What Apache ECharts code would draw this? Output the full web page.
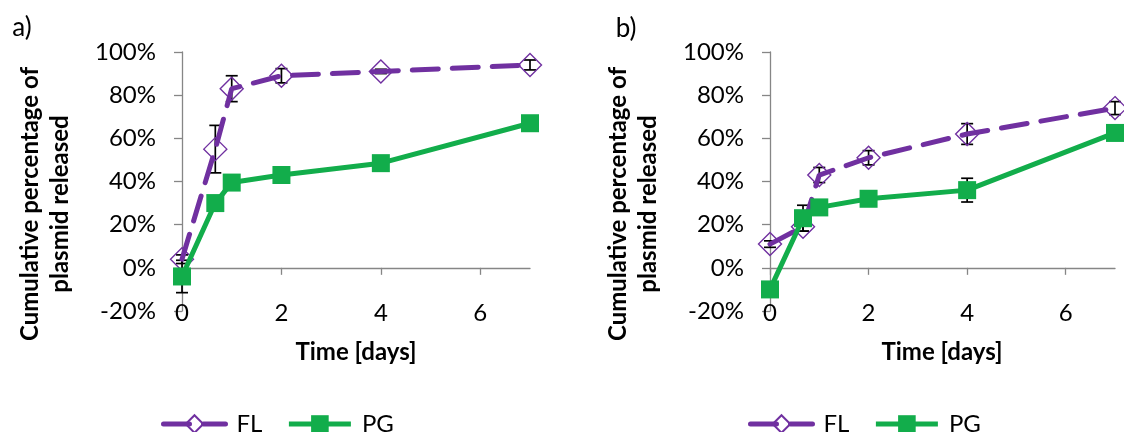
<!DOCTYPE html>
<html>
<head>
<meta charset="utf-8">
<script src="https://cdn.jsdelivr.net/npm/echarts@6/dist/echarts.min.js"></script>
<style>
  html, body { margin: 0; padding: 0; background: #fff; }
  #chart { width: 1124px; height: 432px; }
</style>
</head>
<body>
<div id="chart"></div>
<script>
// Sampling times (days)
const days = [0, 0.67, 1, 2, 4, 7];
const xTicks = [0, 2, 4, 6];

// Panel a) cumulative release (%) and error (±%)
const aFL = [4, 55, 83, 89, 91, 94];
const aFLerr = [2, 11, 6, 3.3, 1, 2.3];
const aPG = [-4, 30, 39.5, 43, 48.5, 67];
const aPGerr = [7.5, 1, 1, 1, 1, 1];

// Panel b) cumulative release (%) and error (±%)
const bFL = [11, 19, 43, 51, 62, 74];
const bFLerr = [1.5, 2, 3.5, 3.3, 4.8, 3];
const bPG = [-10, 23, 28, 32, 36, 62.5];
const bPGerr = [1, 6, 1.5, 1, 5.5, 1];

const PURPLE = '#7030A0';
const GREEN = '#12AD4B';
const AXIS_GREY = '#868686';
const FONT = 'Lato, "Open Sans", sans-serif';

const pairs = (ys) => days.map((d, i) => [d, ys[i]]);
const bars = (ys, es) => days.map((d, i) => [d, ys[i] - es[i], ys[i] + es[i]]);

function errorSeries(name, data, axisIdx) {
  return {
    type: 'custom',
    name: name,
    xAxisIndex: axisIdx,
    yAxisIndex: axisIdx === 0 ? 0 : 1,
    z: 1,
    silent: true,
    encode: { x: 0, y: [1, 2] },
    data: data,
    renderItem: function (params, api) {
      const x = api.value(0);
      const lo = api.coord([x, api.value(1)]);
      const hi = api.coord([x, api.value(2)]);
      const cap = 6;
      const st = { stroke: '#000', lineWidth: 1.7 };
      return {
        type: 'group',
        children: [
          { type: 'line', shape: { x1: lo[0], y1: lo[1], x2: hi[0], y2: hi[1] }, style: st },
          { type: 'line', shape: { x1: lo[0] - cap, y1: lo[1], x2: lo[0] + cap, y2: lo[1] }, style: st },
          { type: 'line', shape: { x1: hi[0] - cap, y1: hi[1], x2: hi[0] + cap, y2: hi[1] }, style: st }
        ]
      };
    }
  };
}

function flSeries(data, xIdx, yIdx) {
  return {
    type: 'line', name: 'FL', xAxisIndex: xIdx, yAxisIndex: yIdx, z: 3,
    data: data,
    symbol: 'diamond', symbolSize: 23,
    itemStyle: { color: 'rgba(255,255,255,0)', borderColor: PURPLE, borderWidth: 1.4 },
    lineStyle: { color: PURPLE, width: 5, type: [26, 14], cap: 'round' },
    color: PURPLE,
    animation: false
  };
}

function pgSeries(data, xIdx, yIdx) {
  return {
    type: 'line', name: 'PG', xAxisIndex: xIdx, yAxisIndex: yIdx, z: 4,
    data: data,
    symbol: 'rect', symbolSize: 18,
    itemStyle: { color: GREEN, borderWidth: 0 },
    lineStyle: { color: GREEN, width: 5 },
    color: GREEN,
    animation: false
  };
}

function labelAxis(gridIndex) {
  return {
    type: 'value', gridIndex: gridIndex, min: 0, max: 7, position: 'bottom',
    axisLine: { show: false, onZero: false },
    axisTick: { show: false },
    splitLine: { show: false },
    axisLabel: {
      customValues: xTicks, margin: -10, fontSize: 24, color: '#000', fontFamily: FONT
    }
  };
}

function zeroAxis(gridIndex) {
  return {
    type: 'value', gridIndex: gridIndex, min: 0, max: 7, position: 'bottom',
    axisLine: { show: true, onZero: true, lineStyle: { color: AXIS_GREY, width: 1.3 } },
    axisTick: { show: true, customValues: xTicks, length: 7, lineStyle: { color: AXIS_GREY, width: 1.3 } },
    splitLine: { show: false },
    axisLabel: { show: false }
  };
}

function yAxis(gridIndex) {
  return {
    type: 'value', gridIndex: gridIndex, min: -20, max: 100, interval: 20,
    axisLine: { show: true, onZero: false, lineStyle: { color: AXIS_GREY, width: 1.3 } },
    axisTick: { show: true, length: 8, lineStyle: { color: AXIS_GREY, width: 1.3 } },
    splitLine: { show: false },
    axisLabel: { formatter: '{value}%', margin: 26, fontSize: 24, color: '#000', fontFamily: FONT }
  };
}

function text(x, y, str, opts) {
  return Object.assign({
    type: 'text', x: x, y: y,
    style: Object.assign({
      text: str, fill: '#000', fontFamily: FONT, fontSize: 24,
      textAlign: 'center', textVerticalAlign: 'middle'
    }, opts && opts.style)
  }, opts && opts.el);
}

const yTitle = (x, str) => text(x, 204, str, { style: { fontWeight: 'bold', fontSize: 24 }, el: { rotation: Math.PI / 2 } });

const legendBase = {
  data: ['FL', 'PG'], orient: 'horizontal', top: 412, padding: 0,
  itemWidth: 62, itemHeight: 22, itemGap: 24,
  lineStyle: { width: 5 },
  textStyle: { fontSize: 24, color: '#000', fontFamily: FONT, padding: [0, 0, 0, 6] },
  selectedMode: false
};

const option = {
  animation: false,
  grid: [
    { left: 182, top: 52, width: 348, height: 259 },
    { left: 770, top: 52, width: 345, height: 259 }
  ],
  xAxis: [labelAxis(0), zeroAxis(0), labelAxis(1), zeroAxis(1)],
  yAxis: [yAxis(0), yAxis(1)],
  legend: [
    Object.assign({}, legendBase, { left: 161 }),
    Object.assign({}, legendBase, { left: 748 })
  ],
  graphic: [
    text(22, 28, 'a)', { style: { fontSize: 26 } }),
    text(626, 29, 'b)', { style: { fontSize: 26 } }),
    yTitle(30, 'Cumulative percentage of'),
    yTitle(60, 'plasmid released'),
    yTitle(618, 'Cumulative percentage of'),
    yTitle(648, 'plasmid released'),
    text(356, 352, 'Time [days]', { style: { fontWeight: 'bold', fontSize: 24 } }),
    text(942, 352, 'Time [days]', { style: { fontWeight: 'bold', fontSize: 24 } })
  ],
  series: [
    errorSeries('aFLerr', bars(aFL, aFLerr), 0),
    errorSeries('aPGerr', bars(aPG, aPGerr), 0),
    flSeries(pairs(aFL), 0, 0),
    pgSeries(pairs(aPG), 0, 0),
    errorSeries('bFLerr', bars(bFL, bFLerr), 2),
    errorSeries('bPGerr', bars(bPG, bPGerr), 2),
    flSeries(pairs(bFL), 2, 1),
    pgSeries(pairs(bPG), 2, 1)
  ]
};

const chart = echarts.init(document.getElementById('chart'), null, { renderer: 'canvas' });
chart.setOption(option);
</script>
</body>
</html>
